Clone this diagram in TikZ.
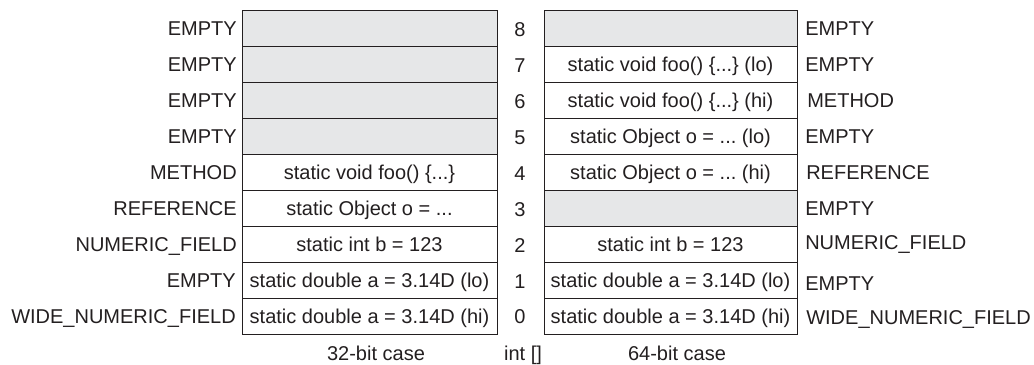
\documentclass[tikz,border=0pt]{standalone}
\usepackage{fontspec}
\setmainfont{Liberation Sans}
\definecolor{ink}{HTML}{231F20}
\definecolor{emptyfill}{HTML}{E6E7E8}
\begin{document}
\frenchspacing
\begin{tikzpicture}[x=0.75pt,y=-0.75pt,
  font=\fontsize{15}{18}\selectfont, text=ink,
  cellbase/.style={draw=ink, line width=0.75pt, minimum height=27pt, inner sep=0pt, text height=10.7pt, text depth=0pt},
  lcell/.style={cellbase, minimum width=191.25pt},
  rcell/.style={cellbase, minimum width=189.75pt},
  grayfill/.style={fill=emptyfill},
  llab/.style={anchor=east, inner sep=0pt, text height=10.7pt, text depth=0pt},
  rlab/.style={anchor=west, inner sep=0pt, text height=10.7pt, text depth=0pt},
  idx/.style={inner sep=0pt, text height=10.7pt, text depth=0pt},
  captxt/.style={inner sep=0pt, text height=10.7pt, text depth=0pt}]
\useasboundingbox (0,0) rectangle (1034,364);
% left column (32-bit)
\node[lcell,grayfill] (L8) at (369.5,28.7) {};
\node[lcell,grayfill] (L7) at (369.5,64.7) {};
\node[lcell,grayfill] (L6) at (369.5,100.7) {};
\node[lcell,grayfill] (L5) at (369.5,136.7) {};
\node[lcell] (L4) at (369.5,172.7) {static void foo() \{...\}};
\node[lcell] (L3) at (369.5,208.7) {static Object o = ...};
\node[lcell] (L2) at (369.5,244.7) {static int b = 123};
\node[lcell] (L1) at (369.5,280.7) {static double a = 3.14D (lo)};
\node[lcell] (L0) at (369.5,316.7) {static double a = 3.14D (hi)};
% left labels
\node[llab] (LL8) at (237,28.7) {EMPTY};
\node[llab] (LL7) at (237,64.7) {EMPTY};
\node[llab] (LL6) at (237,100.7) {EMPTY};
\node[llab] (LL5) at (237,136.7) {EMPTY};
\node[llab] (LL4) at (237,172.7) {METHOD};
\node[llab] (LL3) at (237,208.7) {REFERENCE};
\node[llab] (LL2) at (237,244.7) {NUMERIC\_FIELD};
\node[llab] (LL1) at (236,280.7) {EMPTY};
\node[llab] (LL0) at (236,316.7) {WIDE\_NUMERIC\_FIELD};
% indices
\node[idx] (I8) at (520,29.5) {8};
\node[idx] (I7) at (520,65.5) {7};
\node[idx] (I6) at (520,101.5) {6};
\node[idx] (I5) at (520,137.5) {5};
\node[idx] (I4) at (520,173.5) {4};
\node[idx] (I3) at (520,209.5) {3};
\node[idx] (I2) at (520,245.5) {2};
\node[idx] (I1) at (520,281) {1};
\node[idx] (I0) at (520,316.5) {0};
% right column (64-bit)
\node[rcell,grayfill] (R8) at (670.5,28.7) {};
\node[rcell] (R7) at (670.5,64.7) {static void foo() \{...\} (lo)};
\node[rcell] (R6) at (670.5,100.7) {static void foo() \{...\} (hi)};
\node[rcell] (R5) at (670.5,136.7) {static Object o = ... (lo)};
\node[rcell] (R4) at (670.5,172.7) {static Object o = ... (hi)};
\node[rcell,grayfill] (R3) at (670.5,208.7) {};
\node[rcell] (R2) at (670.5,244.7) {static int b = 123};
\node[rcell] (R1) at (670.5,280.7) {static double a = 3.14D (lo)};
\node[rcell] (R0) at (670.5,316.7) {static double a = 3.14D (hi)};
% right labels
\node[rlab] (RL8) at (805,28.7) {EMPTY};
\node[rlab] (RL7) at (805,64.7) {EMPTY};
\node[rlab] (RL6) at (807,100.7) {METHOD};
\node[rlab] (RL5) at (805,136.7) {EMPTY};
\node[rlab] (RL4) at (806,172.7) {REFERENCE};
\node[rlab] (RL3) at (805,208.7) {EMPTY};
\node[rlab] (RL2) at (805,242.7) {NUMERIC\_FIELD};
\node[rlab] (RL1) at (805,283) {EMPTY};
\node[rlab] (RL0) at (806,317) {WIDE\_NUMERIC\_FIELD};
% captions
\node[captxt] (C32) at (376,353) {32-bit case};
\node[captxt] (CINT) at (523,353) {int []};
\node[captxt] (C64) at (677,353) {64-bit case};
\end{tikzpicture}
\end{document}
